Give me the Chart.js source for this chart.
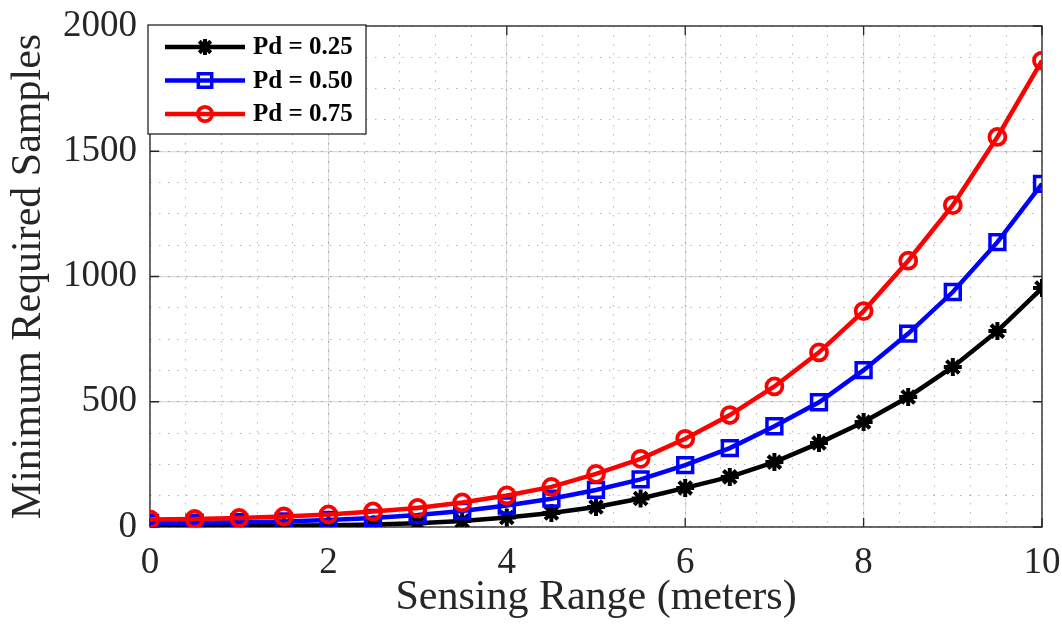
<!DOCTYPE html>
<html>
<head>
<meta charset="utf-8">
<script src="https://cdn.jsdelivr.net/npm/chart.js@4/dist/chart.umd.min.js"></script>
<style>
  body { margin: 0; background: #fff; }
  canvas { display: block; }
</style>
</head>
<body>
<canvas id="samples-chart" width="1062" height="628"></canvas>
<script>
// 資料：感測距離 (m) 與各 Pd 所需最少樣本數
const ranges = [0, 0.5, 1, 1.5, 2, 2.5, 3, 3.5, 4, 4.5, 5, 5.5, 6, 6.5, 7, 7.5, 8, 8.5, 9, 9.5, 10];
const samplesPd25 = [3, 3, 4, 5, 7, 10, 15, 24, 38, 56, 80, 114, 156, 200, 259, 335, 419, 519, 639, 782, 954];
const samplesPd50 = [16, 17, 19, 22, 28, 36, 48, 64, 86, 113, 148, 190, 247, 315, 402, 498, 626, 772, 938, 1137, 1370];
const samplesPd75 = [30, 32, 36, 42, 50, 62, 76, 98, 126, 160, 212, 272, 352, 447, 561, 697, 862, 1063, 1285, 1557, 1862];
const seriesLabels = ["Pd = 0.25", "Pd = 0.50", "Pd = 0.75"];
const xTicks = { min: 0, max: 10, step: 2, minorStep: 0.4 };
const yTicks = { min: 0, max: 2000, step: 500, minorStep: 125 };

const serif = "'Liberation Serif', 'Times New Roman', serif";
const axisColor = "#262626";

const toPoints = arr => arr.map((v, i) => ({ x: ranges[i], y: v }));

// 外框 + 內向刻度 (MATLAB 風格 box on)
const boxPlugin = {
  id: "axesBox",
  beforeDatasetsDraw(chart) {
    const { ctx, chartArea: a, scales } = chart;
    ctx.save();
    ctx.strokeStyle = axisColor;
    ctx.lineWidth = 1.3;
    ctx.strokeRect(a.left, a.top, a.right - a.left, a.bottom - a.top);
    const len = 9;
    ctx.beginPath();
    for (let v = xTicks.min; v <= xTicks.max; v += xTicks.step) {
      const px = scales.x.getPixelForValue(v);
      ctx.moveTo(px, a.bottom); ctx.lineTo(px, a.bottom - len);
      ctx.moveTo(px, a.top); ctx.lineTo(px, a.top + len);
    }
    for (let v = yTicks.min; v <= yTicks.max; v += yTicks.step) {
      const py = scales.y.getPixelForValue(v);
      ctx.moveTo(a.left, py); ctx.lineTo(a.left + len, py);
      ctx.moveTo(a.right, py); ctx.lineTo(a.right - len, py);
    }
    ctx.stroke();
    ctx.restore();
  }
};

// 圖內左上角圖例框
const legendBoxPlugin = {
  id: "legendBox",
  afterDraw(chart) {
    const { ctx, chartArea: a } = chart;
    const x0 = a.left - 2, y0 = a.top - 1, w = 218, h = 109;
    ctx.save();
    ctx.fillStyle = "#fff";
    ctx.fillRect(x0, y0, w, h);
    ctx.strokeStyle = axisColor;
    ctx.lineWidth = 1.3;
    ctx.strokeRect(x0, y0, w, h);
    chart.data.datasets.forEach((ds, i) => {
      const y = y0 + 22 + i * 33.5;
      ctx.strokeStyle = ds.borderColor;
      ctx.lineWidth = ds.borderWidth;
      ctx.beginPath();
      ctx.moveTo(x0 + 17, y);
      ctx.lineTo(x0 + 97, y);
      ctx.stroke();
      ctx.lineWidth = ds.pointBorderWidth;
      ctx.strokeStyle = ds.pointBorderColor;
      ctx.fillStyle = ds.pointBackgroundColor;
      Chart.helpers.drawPoint(ctx, {
        pointStyle: ds.pointStyle,
        radius: ds.pointRadius * 0.9,
        borderWidth: ds.pointBorderWidth,
        rotation: 0
      }, x0 + 57, y);
      ctx.fillStyle = "#000";
      ctx.font = "bold 25px " + serif;
      ctx.textBaseline = "middle";
      ctx.textAlign = "left";
      ctx.fillText(ds.label, x0 + 105, y + 1);
    });
    ctx.restore();
  }
};

const minorGrid = (pos, step, min, max) => ({
  type: "linear",
  position: pos,
  min: min,
  max: max,
  z: -1,
  ticks: { display: false, stepSize: step },
  grid: { color: "rgba(0,0,0,0.28)", lineWidth: 1, drawTicks: false },
  border: { display: false, dash: [1.5, 7.5] }
});

new Chart(document.getElementById("samples-chart").getContext("2d"), {
  type: "line",
  data: {
    datasets: [
      {
        label: seriesLabels[0],
        data: toPoints(samplesPd25),
        borderColor: "#000000",
        borderWidth: 4.5,
        pointStyle: "star",
        pointRadius: 9,
        pointBorderWidth: 4,
        pointBorderColor: "#000000",
        pointBackgroundColor: "#000000",
        order: 3
      },
      {
        label: seriesLabels[1],
        data: toPoints(samplesPd50),
        borderColor: "#0000ff",
        borderWidth: 4.5,
        pointStyle: "rect",
        pointRadius: 10.5,
        pointBorderWidth: 3.5,
        pointBorderColor: "#0000ff",
        pointBackgroundColor: "rgba(0,0,0,0)",
        order: 2
      },
      {
        label: seriesLabels[2],
        data: toPoints(samplesPd75),
        borderColor: "#ff0000",
        borderWidth: 4.5,
        pointStyle: "circle",
        pointRadius: 8,
        pointBorderWidth: 3.8,
        pointBorderColor: "#ff0000",
        pointBackgroundColor: "rgba(0,0,0,0)",
        order: 1
      }
    ]
  },
  options: {
    responsive: false,
    animation: false,
    devicePixelRatio: 1,
    layout: { padding: { top: 26, right: 20, bottom: 0, left: 0 } },
    elements: { line: { tension: 0, fill: false } },
    plugins: {
      legend: { display: false },
      tooltip: { enabled: false }
    },
    scales: {
      x: {
        type: "linear",
        position: "bottom",
        min: xTicks.min,
        max: xTicks.max,
        ticks: {
          stepSize: xTicks.step,
          color: axisColor,
          font: { family: serif, size: 37 },
          padding: 14,
          maxRotation: 0
        },
        grid: { color: "#dcdcdc", lineWidth: 1.2, drawTicks: false },
        border: { display: false },
        title: {
          display: true,
          text: "Sensing Range (meters)",
          color: axisColor,
          font: { family: serif, size: 42 },
          padding: { top: 0, bottom: 5 }
        },
        afterFit(scale) {
          scale.height = 101;
          scale.paddingLeft = 0;
          scale.paddingRight = 0;
        }
      },
      y: {
        type: "linear",
        position: "left",
        min: yTicks.min,
        max: yTicks.max,
        ticks: {
          stepSize: yTicks.step,
          color: axisColor,
          font: { family: serif, size: 37 },
          padding: 13,
          callback: v => String(v)
        },
        grid: { color: "#dcdcdc", lineWidth: 1.2, drawTicks: false },
        border: { display: false },
        title: {
          display: true,
          text: "Minimum Required Samples",
          color: axisColor,
          font: { family: serif, size: 42 },
          padding: { top: 4, bottom: 0 }
        },
        afterFit(scale) {
          scale.width = 150;
          scale.paddingTop = 0;
          scale.paddingBottom = 0;
        }
      },
      xMinor: minorGrid("bottom", xTicks.minorStep, xTicks.min, xTicks.max),
      yMinor: minorGrid("left", yTicks.minorStep, yTicks.min, yTicks.max)
    }
  },
  plugins: [boxPlugin, legendBoxPlugin]
});
</script>
</body>
</html>
